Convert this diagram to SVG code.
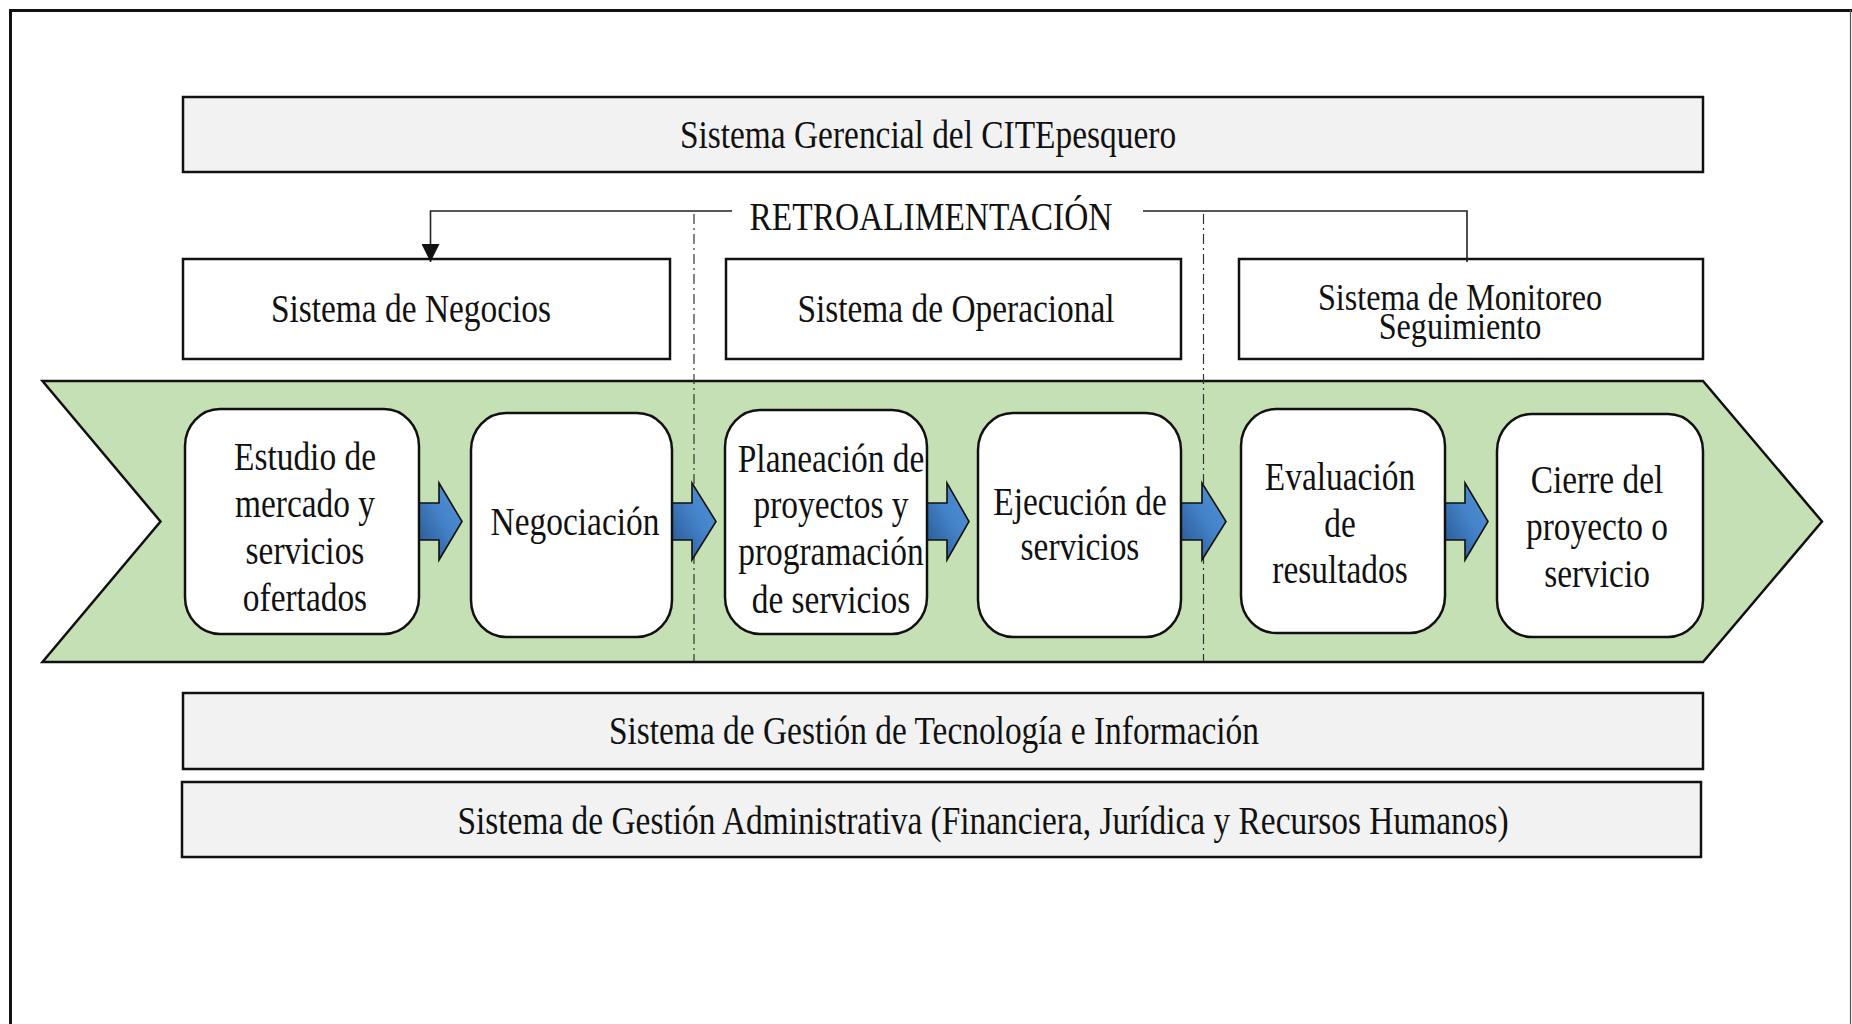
<svg xmlns="http://www.w3.org/2000/svg" width="1852" height="1024" viewBox="0 0 1852 1024">
<defs>
<style>
.t{font-family:"Liberation Serif","Times New Roman",serif;font-size:39px;fill:#111;text-anchor:middle;transform-box:fill-box;transform-origin:center;transform:scaleX(0.857);}
.tm{font-size:37px;transform:scaleX(0.87);}
.band{fill:#F2F2F2;stroke:#111;stroke-width:2.5;}
.sys{fill:#fff;stroke:#111;stroke-width:2.5;}
.step{fill:#fff;stroke:#111;stroke-width:2.5;}
.arr{fill:url(#blue);stroke:#111;stroke-width:1.6;stroke-linejoin:miter;}
.dash{stroke:#333;stroke-width:1.2;fill:none;stroke-dasharray:10 4 2 4;}
.fb{stroke:#222;stroke-width:1.6;fill:none;}
</style>
<linearGradient id="blue" x1="0" y1="1" x2="1" y2="0">
<stop offset="0" stop-color="#26538C"/>
<stop offset="0.55" stop-color="#4483C9"/>
<stop offset="1" stop-color="#5293D6"/>
</linearGradient>
<marker id="ah" viewBox="0 0 10 10" refX="10" refY="5" markerWidth="18" markerHeight="18" markerUnits="userSpaceOnUse" orient="auto">
<path d="M0,0 L10,5 L0,10 Z" fill="#111"/>
</marker>
</defs>
<rect x="0" y="0" width="1852" height="1024" fill="#fff"/>
<g id="frame">
<path d="M10.5,1024 V10.5 H1852" fill="none" stroke="#111" stroke-width="3"/>
<line x1="1850.5" y1="10" x2="1850.5" y2="1024" stroke="#555" stroke-width="1.2"/>
</g>
<g id="gerencial">
<rect class="band" x="183" y="97" width="1520" height="75"/>
<text class="t" x="928" y="148">Sistema Gerencial del CITEpesquero</text>
</g>
<g id="retro-label">
<text class="t" x="931" y="230">RETROALIMENTACIÓN</text>
</g>
<g id="negocios">
<rect class="sys" x="183" y="259" width="487" height="100"/>
<text class="t" x="411" y="322">Sistema de Negocios</text>
</g>
<g id="operacional">
<rect class="sys" x="726" y="259" width="455" height="100"/>
<text class="t" x="956" y="322">Sistema de Operacional</text>
</g>
<g id="monitoreo">
<rect class="sys" x="1239" y="259" width="464" height="100"/>
<text class="t tm" x="1460" y="310">Sistema de Monitoreo</text>
<text class="t tm" x="1460" y="339">Seguimiento</text>
</g>
<g id="chevron">
<path d="M42.5,381 H1703 L1822,521.5 L1703,662 H42.5 L160.5,521.5 Z" fill="#C5E0B4" stroke="#111" stroke-width="2.5" stroke-linejoin="miter"/>
</g>
<g id="dividers">
<line class="dash" x1="694" y1="214" x2="694" y2="661"/>
<line class="dash" x1="1203.5" y1="214" x2="1203.5" y2="661"/>
</g>
<g id="connectors">
<path class="fb" d="M732,211 H430.5 V262" marker-end="url(#ah)"/>
<path class="fb" d="M1143,211 H1467 V262"/>
<path class="arr" d="M419,503 H439 V483 L462,521.5 L439,560 V540 H419 Z"/>
<path class="arr" d="M672,503 H692 V483 L716,521.5 L692,560 V540 H672 Z"/>
<path class="arr" d="M927,503 H947 V483 L969,521.5 L947,560 V540 H927 Z"/>
<path class="arr" d="M1181,503 H1202 V483 L1226,521.5 L1202,560 V540 H1181 Z"/>
<path class="arr" d="M1445,503 H1465 V483 L1488,521.5 L1465,560 V540 H1445 Z"/>
</g>
<g id="estudio">
<rect class="step" x="185" y="409" width="234" height="225" rx="35" ry="37"/>
<text class="t" x="305" y="470">Estudio de</text>
<text class="t" x="305" y="517">mercado y</text>
<text class="t" x="305" y="564">servicios</text>
<text class="t" x="305" y="611">ofertados</text>
</g>
<g id="negociacion">
<rect class="step" x="471" y="413" width="201" height="224" rx="35" ry="37"/>
<text class="t" x="575" y="535">Negociación</text>
</g>
<g id="planeacion">
<rect class="step" x="725" y="410" width="202" height="224" rx="35" ry="37"/>
<text class="t" x="831" y="472">Planeación de</text>
<text class="t" x="831" y="518">proyectos y</text>
<text class="t" x="831" y="565">programación</text>
<text class="t" x="831" y="613">de servicios</text>
</g>
<g id="ejecucion">
<rect class="step" x="978" y="413" width="203" height="224" rx="35" ry="37"/>
<text class="t" x="1080" y="515">Ejecución de</text>
<text class="t" x="1080" y="560">servicios</text>
</g>
<g id="evaluacion">
<rect class="step" x="1241" y="409" width="204" height="224" rx="35" ry="37"/>
<text class="t" x="1340" y="490">Evaluación</text>
<text class="t" x="1340" y="537">de</text>
<text class="t" x="1340" y="583">resultados</text>
</g>
<g id="cierre">
<rect class="step" x="1497" y="414" width="206" height="223" rx="35" ry="37"/>
<text class="t" x="1597" y="493">Cierre del</text>
<text class="t" x="1597" y="540">proyecto o</text>
<text class="t" x="1597" y="587">servicio</text>
</g>
<g id="tecnologia">
<rect class="band" x="183" y="693" width="1520" height="76"/>
<text class="t" x="934" y="744">Sistema de Gestión de Tecnología e Información</text>
</g>
<g id="administrativa">
<rect class="band" x="182" y="782" width="1519" height="75"/>
<text class="t" x="983" y="834">Sistema de Gestión Administrativa (Financiera, Jurídica y Recursos Humanos)</text>
</g>
</svg>
